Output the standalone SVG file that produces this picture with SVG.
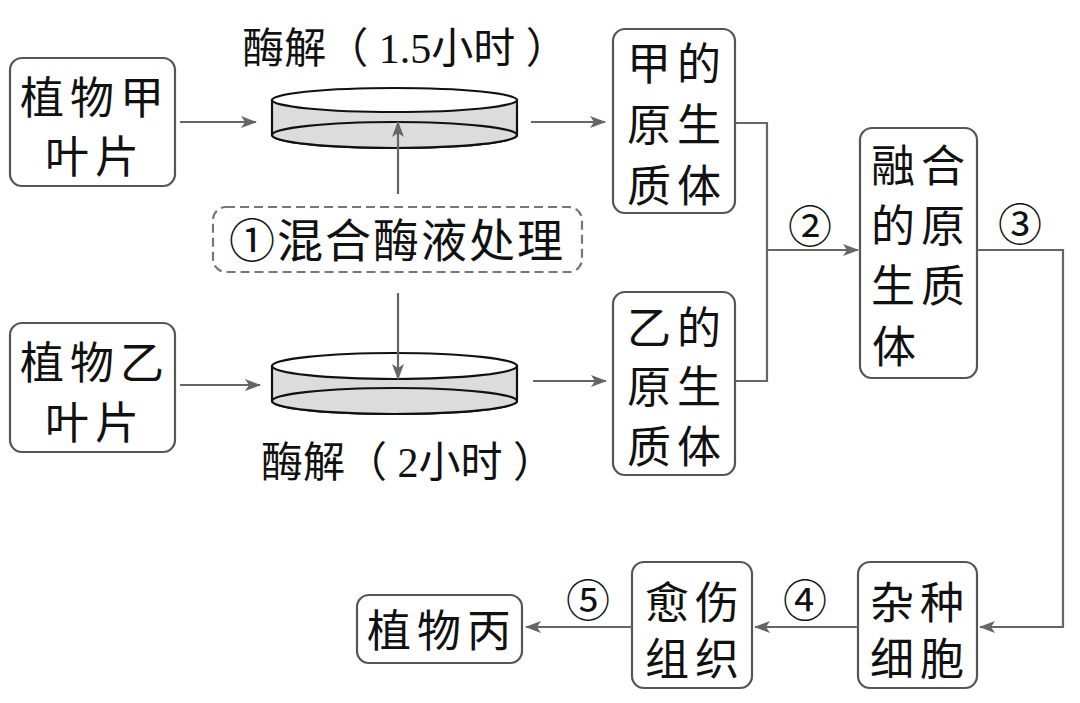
<svg xmlns="http://www.w3.org/2000/svg" width="1080" height="703" viewBox="0 0 1080 703">
<defs>
<style>
.box{fill:#fff;stroke:#555;stroke-width:2.2}
.t{font-family:"Liberation Serif","Noto Sans CJK SC",serif;fill:#111;text-anchor:middle}
.bt{font-size:44px;letter-spacing:6px}
.lb{font-size:42px}
.num{font-size:44px}
.ln{fill:none;stroke:#666;stroke-width:2.2}
.dish{stroke:#111;stroke-width:2.2}
</style>
<marker id="ah" markerUnits="userSpaceOnUse" markerWidth="16" markerHeight="12" refX="15" refY="6" orient="auto">
<path d="M0,0 L16,6 L0,12 L4,6 z" fill="#666"/>
</marker>
</defs>
<rect width="1080" height="703" fill="#fff"/>

<g id="plantA">
<rect class="box" x="10" y="58" width="165" height="128" rx="12"/>
<text class="t bt" x="95" y="114">植物甲</text>
<text class="t bt" x="95" y="173">叶片</text>
</g>

<g id="plantB">
<rect class="box" x="10" y="323" width="165" height="129" rx="12"/>
<text class="t bt" x="95" y="379">植物乙</text>
<text class="t bt" x="95" y="439">叶片</text>
</g>

<g id="dishA">
<path class="dish" d="M272,100 L272,135 A122.5,13 0 0 0 517,135 L517,100 Z" fill="#dcdcdc"/>
<ellipse class="dish" cx="394.5" cy="135" rx="122.5" ry="13" fill="#dcdcdc"/>
<ellipse class="dish" cx="394.5" cy="100" rx="122.5" ry="12" fill="#fff"/>
<text class="t lb" x="405" y="63">酶解（ 1.5小时 ）</text>
</g>

<g id="dishB">
<path class="dish" d="M272,366 L272,401 A122.5,13 0 0 0 517,401 L517,366 Z" fill="#dcdcdc"/>
<ellipse class="dish" cx="394.5" cy="401" rx="122.5" ry="13" fill="#dcdcdc"/>
<ellipse class="dish" cx="394.5" cy="366" rx="122.5" ry="13" fill="#fff"/>
<text class="t lb" x="408" y="477">酶解（ 2小时 ）</text>
</g>

<g id="enzyme">
<rect x="213" y="207" width="369" height="65" rx="13" fill="#fff" stroke="#777" stroke-width="2.2" stroke-dasharray="9 5"/>
<text class="t" x="397" y="257" style="font-size:46px;letter-spacing:2px">①混合酶液处理</text>
</g>

<g id="protoA">
<rect class="box" x="613" y="29" width="122" height="184" rx="12"/>
<text class="t bt" x="677" y="80">甲的</text>
<text class="t bt" x="677" y="141">原生</text>
<text class="t bt" x="677" y="202">质体</text>
</g>

<g id="protoB">
<rect class="box" x="613" y="292" width="122" height="183" rx="12"/>
<text class="t bt" x="677" y="344">乙的</text>
<text class="t bt" x="677" y="403">原生</text>
<text class="t bt" x="677" y="463">质体</text>
</g>

<g id="fused">
<rect class="box" x="860" y="128" width="117" height="250" rx="12"/>
<text class="t bt" x="921" y="182">融合</text>
<text class="t bt" x="921" y="242">的原</text>
<text class="t bt" x="921" y="302">生质</text>
<text class="t bt" x="897" y="363">体</text>
</g>

<g id="hybrid">
<rect class="box" x="858" y="562" width="119" height="126" rx="12"/>
<text class="t bt" x="920" y="619">杂种</text>
<text class="t bt" x="920" y="675">细胞</text>
</g>

<g id="callus">
<rect class="box" x="632" y="562" width="120" height="126" rx="12"/>
<text class="t bt" x="695" y="619">愈伤</text>
<text class="t bt" x="695" y="675">组织</text>
</g>

<g id="plantC">
<rect class="box" x="357" y="595" width="165" height="68" rx="12"/>
<text class="t bt" x="442" y="647">植物丙</text>
</g>

<g id="connectors">
<line class="ln" x1="180" y1="122" x2="256" y2="122" marker-end="url(#ah)"/>
<line class="ln" x1="180" y1="385" x2="260" y2="385" marker-end="url(#ah)"/>
<line class="ln" x1="531" y1="122" x2="605" y2="122" marker-end="url(#ah)"/>
<line class="ln" x1="533" y1="381" x2="606" y2="381" marker-end="url(#ah)"/>
<line class="ln" x1="398" y1="194" x2="398" y2="122" marker-end="url(#ah)"/>
<line class="ln" x1="398" y1="293" x2="398" y2="379" marker-end="url(#ah)"/>
<polyline class="ln" points="735,123 767,123 767,381 735,381"/>
<line class="ln" x1="767" y1="250" x2="858" y2="250" marker-end="url(#ah)"/>
<polyline class="ln" points="977,250 1063,250 1063,627 980,627" marker-end="url(#ah)"/>
<line class="ln" x1="858" y1="627" x2="755" y2="627" marker-end="url(#ah)"/>
<line class="ln" x1="632" y1="627" x2="526" y2="627" marker-end="url(#ah)"/>
<text class="t num" x="810" y="243">②</text>
<text class="t num" x="1020" y="241">③</text>
<text class="t num" x="805" y="617">④</text>
<text class="t num" x="588" y="617">⑤</text>
</g>
</svg>
